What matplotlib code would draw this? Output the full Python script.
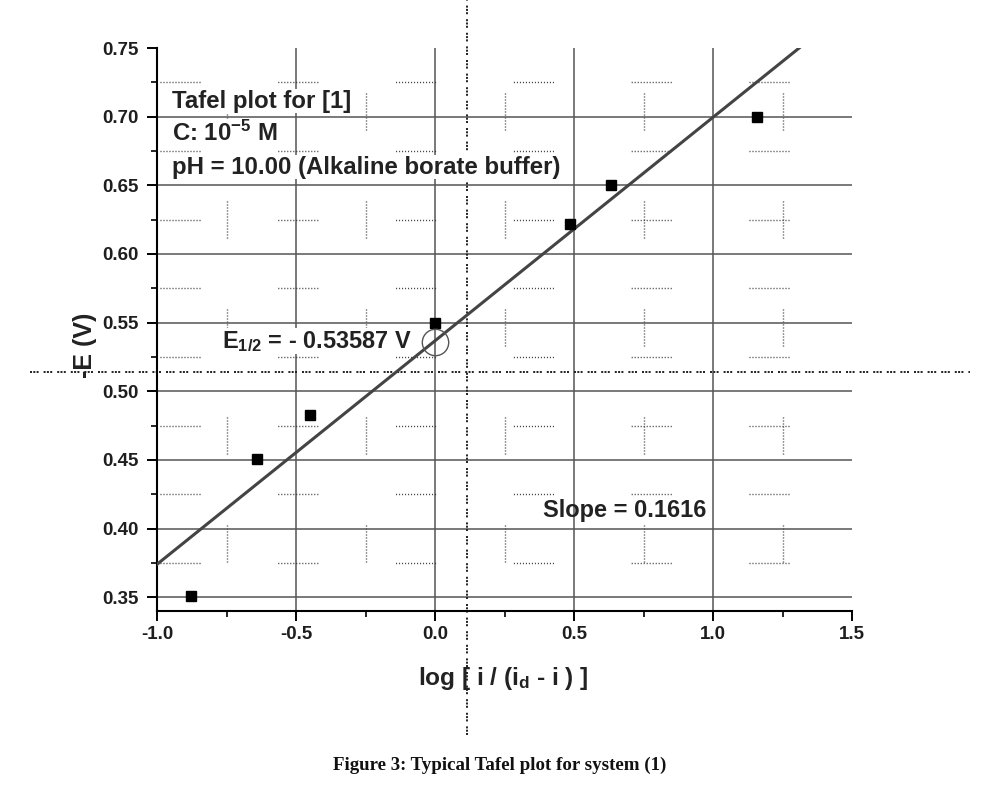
import numpy as np
import matplotlib
matplotlib.use('Agg')
import matplotlib.pyplot as plt

# dados
log_ratio = [-0.878, -0.640, -0.450, 0.000, 0.486, 0.633, 1.158]
minus_E = [0.351, 0.451, 0.4825, 0.550, 0.622, 0.650, 0.700]

# reta ajustada (slope = 0.1616)
fit_x = [-1.0, 1.31]
fit_y = [0.374, 0.750]

e_half_x = 0.0
e_half_y = 0.536
cross_x = 0.115
cross_y = 0.514

xticks = [-1.0, -0.5, 0.0, 0.5, 1.0, 1.5]
xminor = [-0.75, -0.25, 0.25, 0.75, 1.25]
yticks = [0.35, 0.40, 0.45, 0.50, 0.55, 0.60, 0.65, 0.70, 0.75]
yminor = [0.375, 0.425, 0.475, 0.525, 0.575, 0.625, 0.675, 0.725]

matplotlib.rcParams['lines.scale_dashes'] = False
matplotlib.rcParams['font.family'] = ['Liberation Sans', 'DejaVu Sans']
matplotlib.rcParams['font.weight'] = 'bold'
matplotlib.rcParams['mathtext.fontset'] = 'custom'
matplotlib.rcParams['mathtext.rm'] = 'Liberation Sans:bold'
matplotlib.rcParams['mathtext.it'] = 'Liberation Sans:bold'
matplotlib.rcParams['mathtext.bf'] = 'Liberation Sans:bold'
matplotlib.rcParams['mathtext.default'] = 'rm'

PX = 72.0 / 100  # 1 pixel em pontos


def dotted_segments(period, ndots, offset):
    seq = [1 * PX, 2 * PX] * (ndots - 1) + [1 * PX, (period - 3 * (ndots - 1) - 1) * PX]
    return (offset * PX, seq)


fig = plt.figure(figsize=(10.01, 7.85), dpi=100)
ax = fig.add_axes([157 / 1001, 1 - 611 / 785, 695 / 1001, 563 / 785])

ax.set_xlim(-1.0, 1.5)
ax.set_ylim(0.34, 0.75)
ax.set_xticks(xticks)
ax.set_xticks(xminor, minor=True)
ax.set_yticks(yticks)
ax.set_yticks(yminor, minor=True)
ax.set_xticklabels(['-1.0', '-0.5', '0.0', '0.5', '1.0', '1.5'])
ax.set_yticklabels(['%.2f' % v for v in yticks])

for s in ['top', 'right']:
    ax.spines[s].set_visible(False)
for s in ['left', 'bottom']:
    ax.spines[s].set_linewidth(1.5)

ax.tick_params(which='major', direction='out', length=7.5, width=1.4, labelsize=13.5,
               labelcolor='#1e1e1e')
ax.tick_params(which='minor', direction='out', length=4.5, width=1.2)
ax.tick_params(axis='y', which='major', pad=5.5)
ax.tick_params(axis='x', which='major', pad=3.5)

ax.grid(which='major', color='#555555', linewidth=1.1, linestyle='-')
for g, v in zip(ax.yaxis.get_gridlines(), yticks):
    if v >= 0.75:
        g.set_visible(False)
for g, v in zip(ax.xaxis.get_gridlines(), xticks):
    if v <= -1.0 or v >= 1.5:
        g.set_visible(False)

# grade secundaria pontilhada (aparece em trechos)
ax.yaxis.grid(True, which='minor', color='#333333', linewidth=1.0,
              linestyle=dotted_segments(117.8, 14, 117.8 - 3))
ax.xaxis.grid(True, which='minor', color='#333333', linewidth=1.0,
              linestyle=dotted_segments(108, 13, 108 - 49))
ax.set_axisbelow(True)

ax.plot(fit_x, fit_y, color='#444444', linewidth=2.2, zorder=3)
ax.plot(log_ratio, minus_E, 's', color='black', markersize=7.5, zorder=4)
ax.plot([e_half_x], [e_half_y], 'o', markersize=19, markerfacecolor='none',
        markeredgecolor='#555555', markeredgewidth=1.0, zorder=4)

# linhas de referencia pontilhadas
dash3 = (0, [2 * PX, 1.3 * PX, 2 * PX, 1.3 * PX, 2 * PX, 5 * PX])
ax.axvline(cross_x, ymin=-0.22, ymax=1.085, color='#222222', linewidth=1.4,
           linestyle=dash3, clip_on=False, zorder=2)
ax.axhline(cross_y, xmin=-0.183, xmax=1.17, color='#222222', linewidth=1.4,
           linestyle=dash3, clip_on=False, zorder=2)

box = dict(facecolor='white', edgecolor='none', pad=0.5)
ax.text(-0.946, 0.7114, 'Tafel plot for [1]', fontsize=17.3, va='center', color='#222222',
        bbox=box, zorder=2.5)
ax.text(-0.946, 0.688, r'C: 10$^{-5}$ M', fontsize=17.3, va='center', color='#222222',
        bbox=box, zorder=2.5)
ax.text(-0.946, 0.6633, 'pH = 10.00 (Alkaline borate buffer)', fontsize=17.3, va='center',
        color='#222222', bbox=box, zorder=2.5)
ax.text(-0.766, 0.5364, r'E$_{1/2}$ = - 0.53587 V', fontsize=16.9, va='center',
        color='#222222', bbox=box, zorder=2.5)
ax.text(0.388, 0.413, 'Slope = 0.1616', fontsize=17, va='center', color='#222222')

fig.text(85 / 1001, 1 - 345 / 785, '-E (V)', rotation=90, fontsize=18, ha='center',
         va='center', color='#222222')
fig.text(503 / 1001, 1 - 678 / 785, r'log [ i / (i$_\mathrm{d}$ - i ) ]', fontsize=17.6,
         ha='center', va='center', color='#222222')
fig.text(500 / 1001, 1 - 765 / 785, 'Figure 3: Typical Tafel plot for system (1)',
         fontsize=13.6, ha='center', va='center', family='Liberation Serif',
         weight='bold', color='#111111')

fig.savefig('out.png', dpi=100)
